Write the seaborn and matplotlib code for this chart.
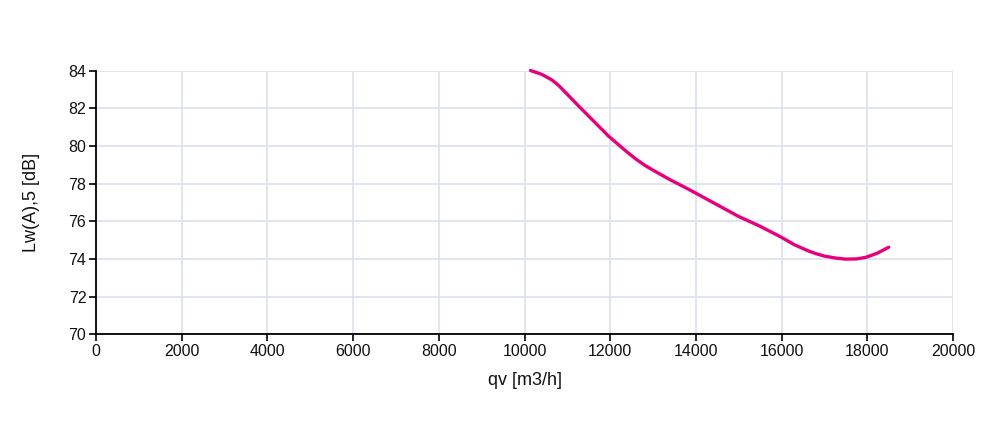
import matplotlib
matplotlib.use("Agg")
import matplotlib.pyplot as plt
import pandas as pd
import seaborn as sns

# Sound power vs. air flow
qv = [10140, 10400, 10640, 10800, 10950, 11270, 11620, 11970, 12200,
      12380, 12600, 12820, 13100, 13400, 13700, 13990, 14500, 15000,
      15500, 15970, 16300, 16630, 16800, 17000, 17250, 17490, 17750,
      17960, 18230, 18500]
lw = [84.0, 83.8, 83.5, 83.2, 82.85, 82.1, 81.3, 80.5, 80.05,
      79.7, 79.3, 78.95, 78.58, 78.2, 77.85, 77.5, 76.87, 76.25,
      75.73, 75.18, 74.75, 74.42, 74.28, 74.15, 74.05, 73.99, 74.0,
      74.08, 74.3, 74.62]

xticks = list(range(0, 20001, 2000))
yticks = list(range(70, 85, 2))

df = pd.DataFrame({"qv": qv, "lw": lw})

sns.set_style("white")
plt.rcParams["font.family"] = ["Liberation Sans", "DejaVu Sans"]

fig = plt.figure(figsize=(10, 4.3), dpi=100)
ax = fig.add_axes([0.096, 0.2226, 0.857, 0.6134])

sns.lineplot(data=df, x="qv", y="lw", color="#e6007e", linewidth=2.4, ax=ax,
             sort=False)
for ln in ax.lines:
    ln.set_clip_on(False)
    ln.set_solid_capstyle("round")
    ln.set_solid_joinstyle("round")

ax.set_xlim(0, 20000)
ax.set_ylim(70, 84)
ax.set_xticks(xticks)
ax.set_yticks(yticks)
ax.grid(True, color="#dde3ee", linewidth=1.3)
ax.set_axisbelow(True)
for s in ["top", "right"]:
    ax.spines[s].set_visible(False)
for s in ["left", "bottom"]:
    ax.spines[s].set_color("black")
    ax.spines[s].set_linewidth(1.3)
ax.tick_params(axis="both", direction="out", length=5, width=1.2,
               color="black", labelsize=11.5, labelcolor="#111111", pad=2,
               left=True, bottom=True)
ax.set_xlabel("qv [m3/h]", fontsize=13, color="#111111", labelpad=9)
ax.set_ylabel("Lw(A),5 [dB]", fontsize=13, color="#111111", labelpad=20)

fig.savefig("out.png", dpi=100)
